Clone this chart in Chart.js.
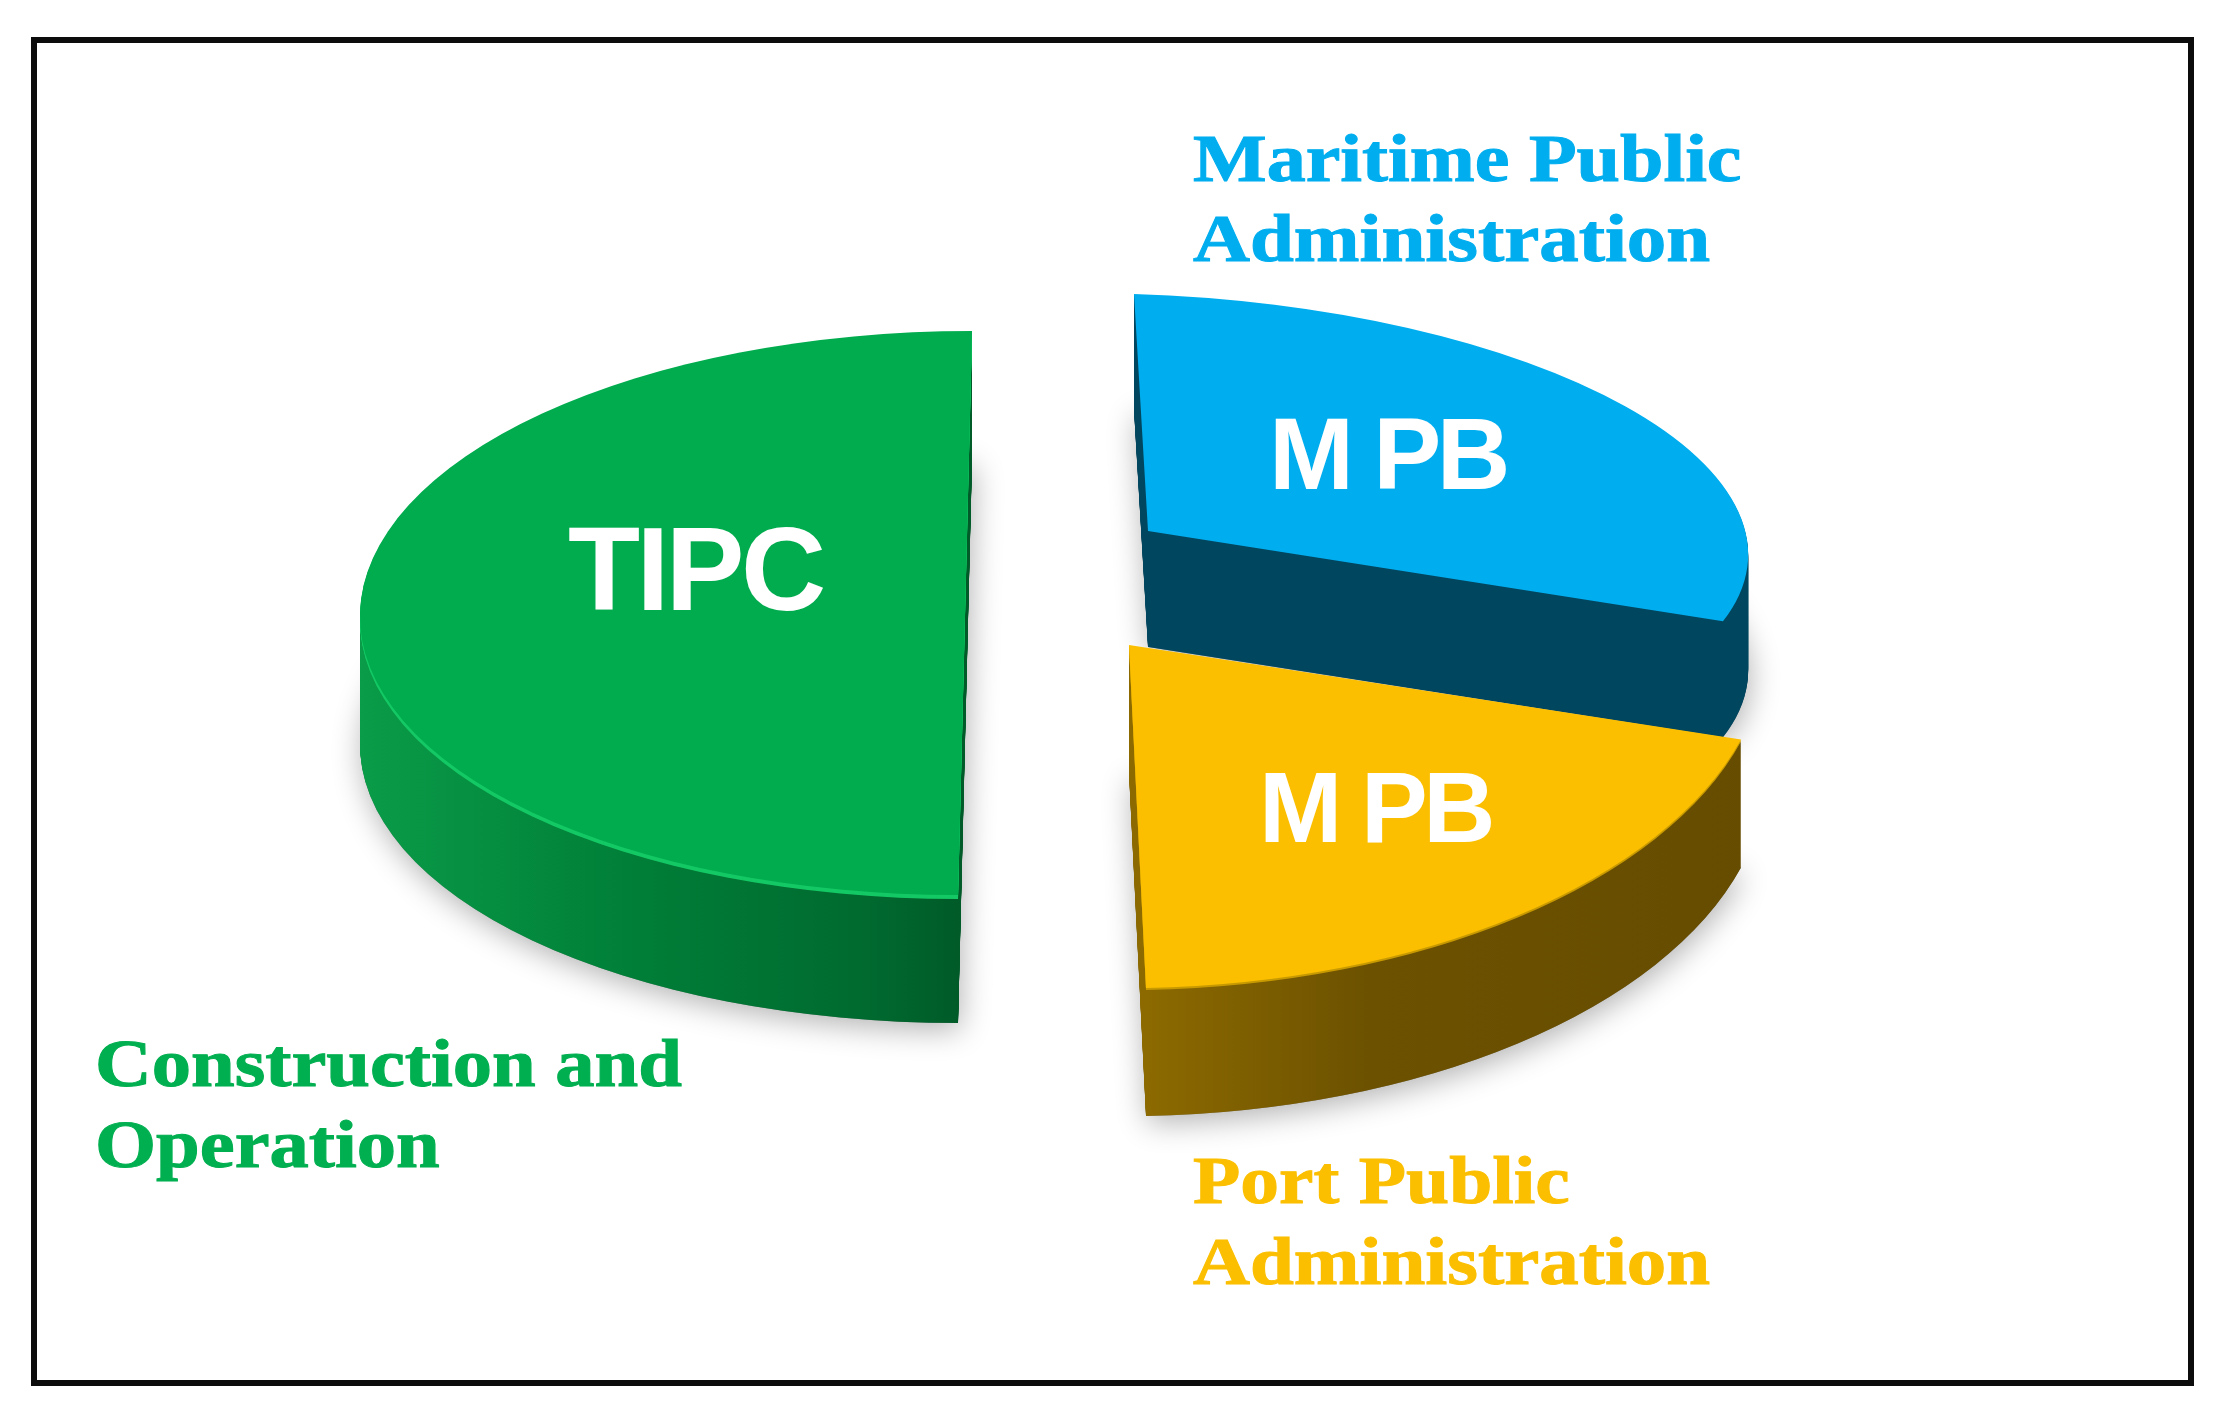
<!DOCTYPE html>
<html>
<head>
<meta charset="utf-8">
<title>Pie</title>
<script src="https://cdn.jsdelivr.net/npm/chart.js@4/dist/chart.umd.min.js"></script>
<style>
  html, body { margin: 0; padding: 0; background: #fff; }
  #wrap { position: relative; width: 2224px; height: 1415px; overflow: hidden; }
  #marco { position: absolute; left: 31px; top: 37px; width: 2151px; height: 1337px; border: 6px solid #0c0c0c; }
  canvas { position: absolute; left: 0; top: 0; }
</style>
</head>
<body>
<div id="wrap">
  <div id="marco"></div>
  <canvas id="tabla" width="2224" height="1415"></canvas>
</div>
<script>
const categorias = ['Maritime Public Administration', 'Port Public Administration', 'Construction and Operation'];
const valores = [30, 20, 50];
const siglas = ['M PB', 'M PB', 'TIPC'];
const lineas = [['Maritime Public', 'Administration'], ['Port Public', 'Administration'], ['Construction and', 'Operation']];

const colorTapa = ['#00AEEF', '#FBBF00', '#00AC4E'];
const colorTexto = ['#00AEEF', '#FBBF00', '#00AF50'];
const colorBorde = ['#00AEEF', '#C89A00', '#14C965'];
const bordeAlto = [0, 2, 4];
const colorLado = [
  [[0, '#00465F'], [1, '#00465F']],
  [[0, '#8C6A00'], [0.35, '#6C5100'], [1, '#664C00']],
  [[0, '#0A9C48'], [0.45, '#007F38'], [0.85, '#006A2F'], [1, '#005B28']]
];

// como queda cada rebanada en pantalla: centro, eje x, eje y, grosor
const vista = [
  { cx: 1148, cy: 531, ax: 600, ay: 18, bx: 14, by: 237, alto: 116 },
  { cx: 1129, cy: 645, ax: 638, ay: -12, bx: 17, by: 343, alto: 128 },
  { cx: 965, cy: 613, ax: 605, ay: 0, bx: -7, by: 282, alto: 128 }
];

// textos: sigla dentro de la rebanada, nombre afuera
const posSigla = [
  { x: 1269, y: 489, size: 102, esp: -4.5 },
  { x: 1259, y: 842, size: 100, esp: -4.5 },
  { x: 568, y: 610, size: 118, esp: -3.5 }
];
const posNombre = [
  { x: 1193, y: [181, 261], size: 68, ancho: [1.148, 1.16] },
  { x: 1193, y: [1203, 1284], size: 68, ancho: [1.14, 1.16] },
  { x: 95, y: [1086, 1167], size: 68, ancho: [1.155, 1.155] }
];

function dibujarRebanada(ctx, arco, v, dy, color) {
  const R = arco.outerRadius;
  const e = v.cx - (v.ax * arco.x + v.bx * arco.y) / R;
  const f = v.cy - (v.ay * arco.x + v.by * arco.y) / R;
  ctx.setTransform(v.ax / R, v.ay / R, v.bx / R, v.by / R, e, f + dy);
  const base = arco.options;
  arco.options = Object.assign({}, base, { backgroundColor: color });
  arco.draw(ctx);
  arco.options = base;
}

function gradienteLado(ctx, arco, i) {
  const R = arco.outerRadius;
  const x0 = i === 2 ? arco.x - R : arco.x;
  const x1 = i === 2 ? arco.x : arco.x + R;
  const g = ctx.createLinearGradient(x0, 0, x1, 0);
  colorLado[i].forEach(s => g.addColorStop(s[0], s[1]));
  return g;
}

const pastel3d = {
  id: 'pastel3d',
  beforeDatasetsDraw(chart) {
    const ctx = chart.ctx;
    const arcos = chart.getDatasetMeta(0).data;
    const orden = [2, 0, 1];

    // sombras primero
    orden.forEach(i => {
      ctx.save();
      ctx.shadowColor = 'rgba(0,0,0,0.3)';
      ctx.shadowBlur = 30;
      ctx.shadowOffsetX = 2;
      ctx.shadowOffsetY = 7;
      dibujarRebanada(ctx, arcos[i], vista[i], vista[i].alto, '#888');
      ctx.restore();
    });

    orden.forEach(i => {
      const arco = arcos[i];
      const v = vista[i];
      ctx.save();
      const lado = gradienteLado(ctx, arco, i);
      for (let dy = v.alto; dy > bordeAlto[i]; dy--) {
        dibujarRebanada(ctx, arco, v, dy, lado);
      }
      for (let dy = bordeAlto[i]; dy > 0; dy--) {
        dibujarRebanada(ctx, arco, v, dy, colorBorde[i]);
      }
      dibujarRebanada(ctx, arco, v, 0, colorTapa[i]);
      ctx.restore();
    });
    return false;
  },
  afterDraw(chart) {
    const ctx = chart.ctx;
    ctx.save();
    ctx.textBaseline = 'alphabetic';
    ctx.textAlign = 'left';
    siglas.forEach((txt, i) => {
      const p = posSigla[i];
      ctx.setTransform(1, 0, 0, 1, 0, 0);
      ctx.font = 'bold ' + p.size + 'px "Liberation Sans"';
      ctx.letterSpacing = p.esp + 'px';
      ctx.fillStyle = '#fff';
      ctx.fillText(txt, p.x, p.y);
    });
    ctx.letterSpacing = '0px';
    lineas.forEach((renglones, i) => {
      const p = posNombre[i];
      ctx.font = 'bold ' + p.size + 'px "Liberation Serif"';
      ctx.fillStyle = colorTexto[i];
      ctx.strokeStyle = colorTexto[i];
      ctx.lineWidth = 1;
      renglones.forEach((txt, j) => {
        ctx.setTransform(p.ancho[j], 0, 0, 1, p.x, p.y[j]);
        ctx.fillText(txt, 0, 0);
        ctx.strokeText(txt, 0, 0);
      });
    });
    ctx.restore();
  }
};

new Chart(document.getElementById('tabla').getContext('2d'), {
  type: 'pie',
  data: {
    labels: categorias,
    datasets: [{ label: 'Share', data: valores, backgroundColor: colorTapa, borderWidth: 0 }]
  },
  options: {
    responsive: false,
    animation: false,
    plugins: { legend: { display: false }, tooltip: { enabled: false } }
  },
  plugins: [pastel3d]
});
</script>
</body>
</html>
